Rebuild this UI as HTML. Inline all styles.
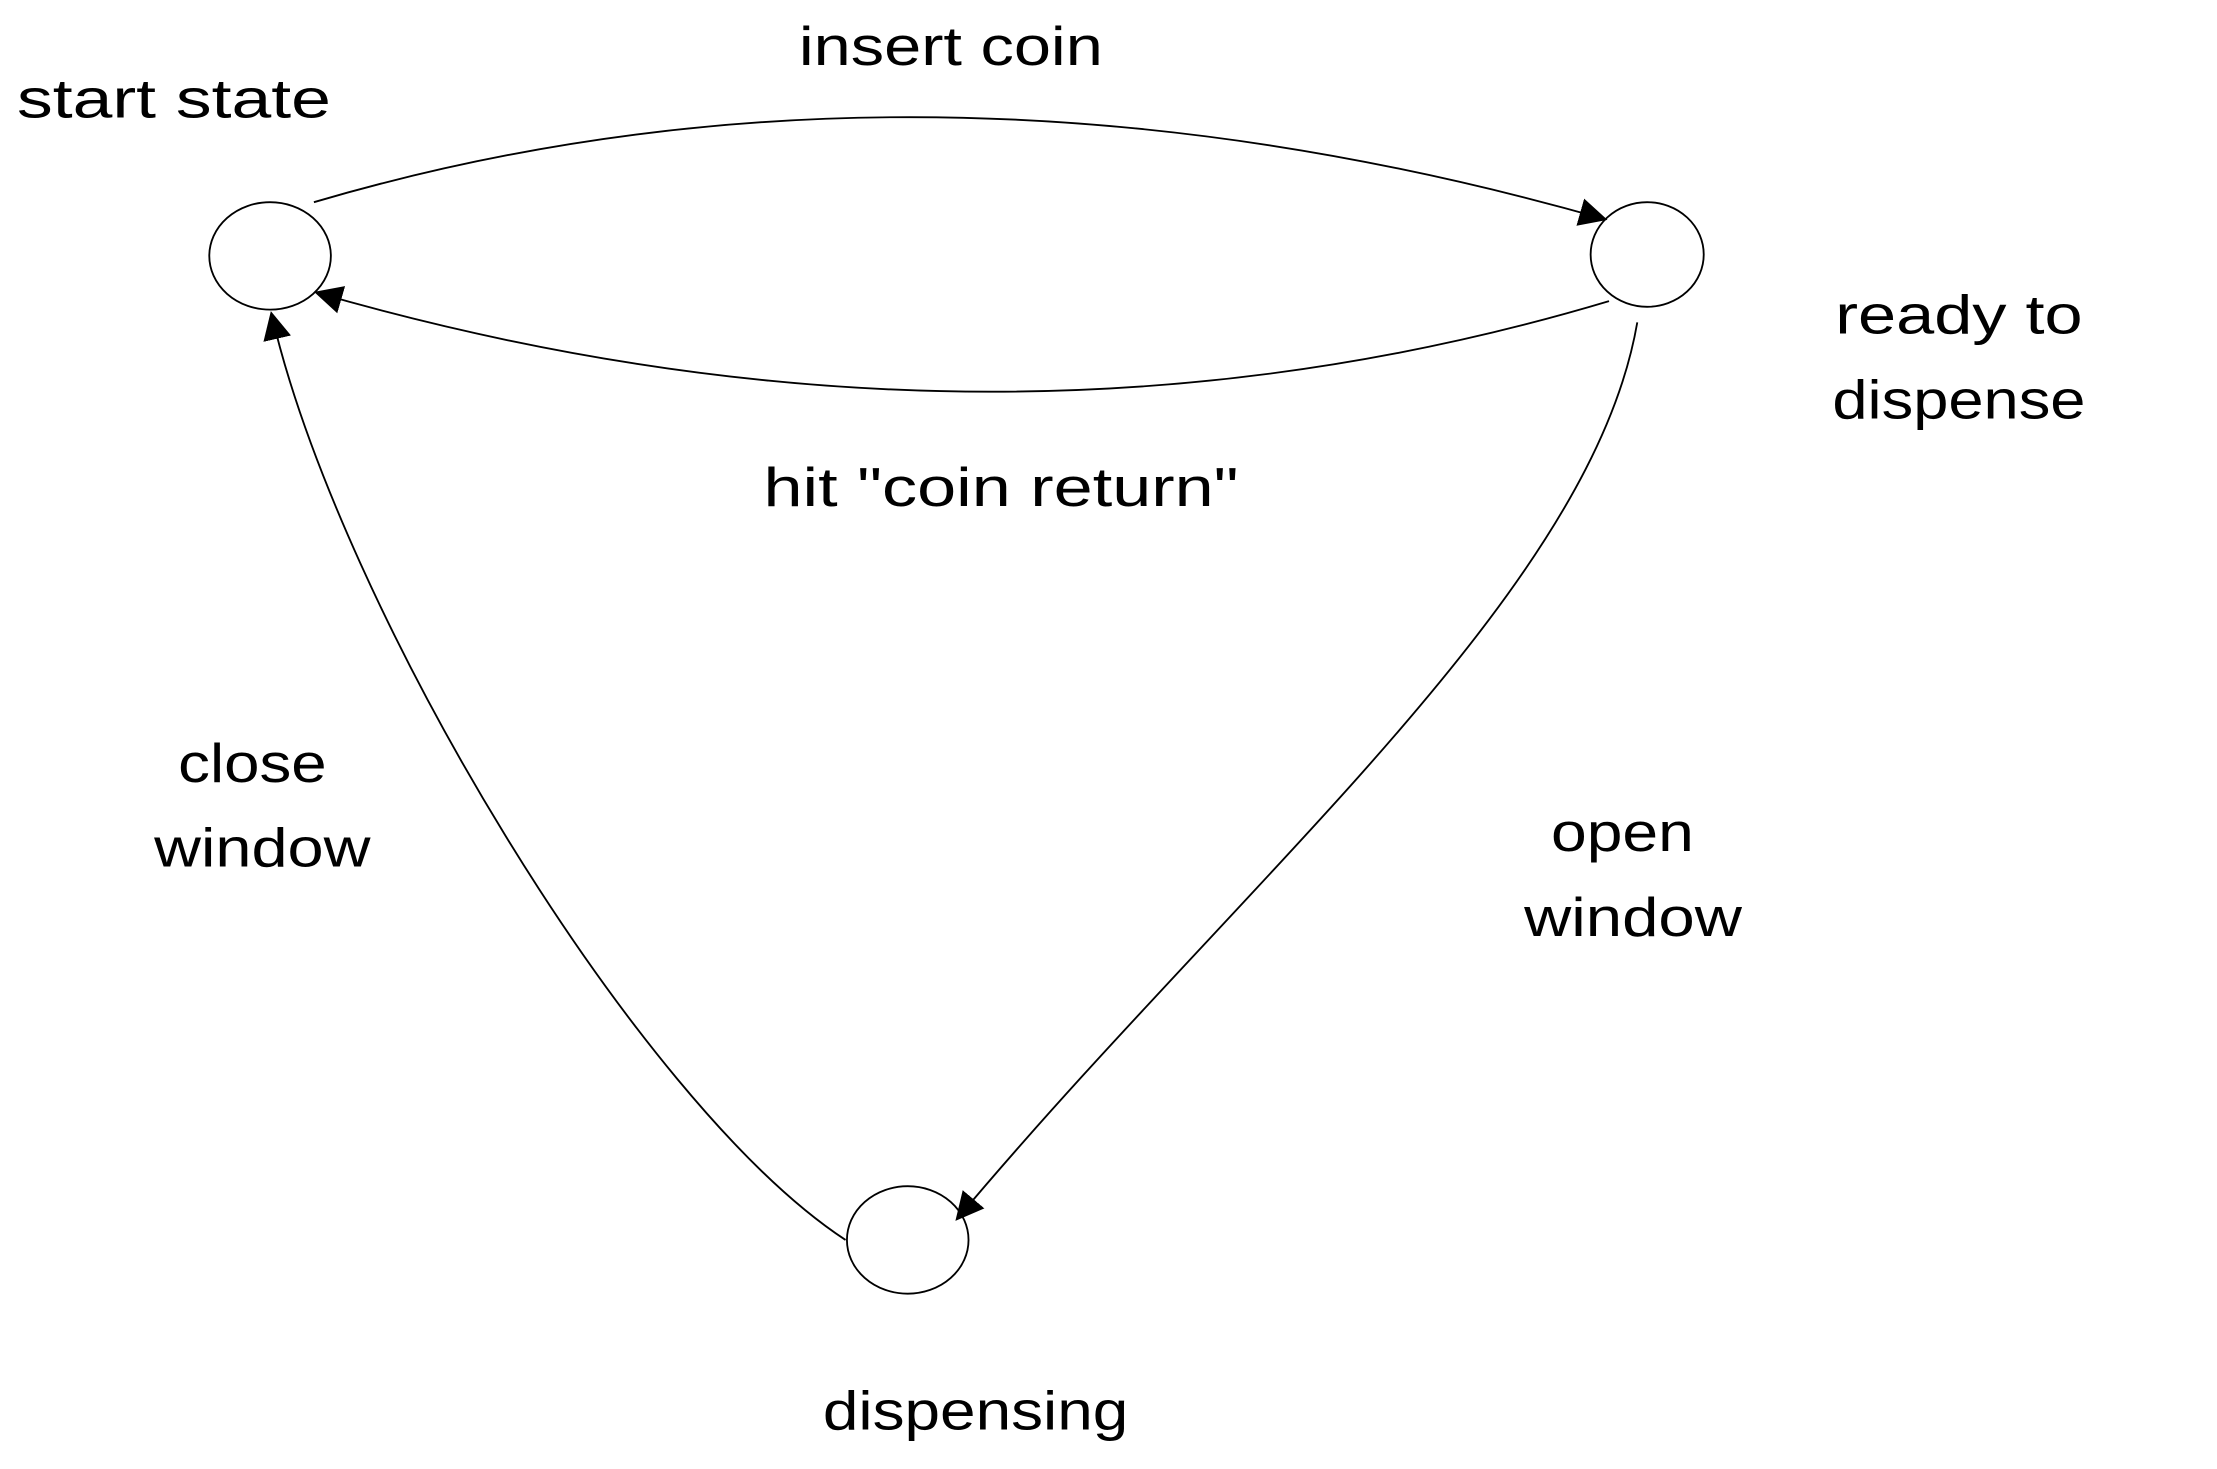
<!DOCTYPE html>
<html><head><meta charset="utf-8"><style>
html,body{margin:0;padding:0;background:#fff;width:2217px;height:1469px;overflow:hidden}
svg{display:block}
text{font-family:"Liberation Sans",sans-serif;font-size:39px;fill:#000}
</style></head><body>
<svg width="2217" height="1469" viewBox="0 0 1568 1039" xmlns="http://www.w3.org/2000/svg">
<defs><marker id="a" viewBox="0 0 10 10" refX="9" refY="5" markerWidth="20" markerHeight="20" markerUnits="userSpaceOnUse" orient="auto"><path d="M0,0 L10,5 L0,10 z" fill="#000"/></marker></defs>
<g fill="none" stroke="#000" stroke-width="1.3">
<ellipse cx="191" cy="181" rx="43" ry="38"/>
<ellipse cx="1165" cy="180" rx="40" ry="37"/>
<ellipse cx="642" cy="877" rx="43" ry="38"/>
<path d="M222,143 Q650,17 1135,155" marker-end="url(#a)"/>
<path d="M1138,213 Q700,344 224,207" marker-end="url(#a)"/>
<path d="M1158,228 C1125,420 880,620 677,862" marker-end="url(#a)"/>
<path d="M598,877 C450,780 240,430 192,222" marker-end="url(#a)"/>
</g>
<text x="12" y="83" textLength="222" lengthAdjust="spacingAndGlyphs">start state</text>
<text x="565" y="46" textLength="215" lengthAdjust="spacingAndGlyphs">insert coin</text>
<text x="1298" y="236" textLength="175" lengthAdjust="spacingAndGlyphs">ready to</text>
<text x="1296" y="296" textLength="179" lengthAdjust="spacingAndGlyphs">dispense</text>
<text x="540" y="358" textLength="336" lengthAdjust="spacingAndGlyphs">hit "coin return"</text>
<text x="126" y="553" textLength="105" lengthAdjust="spacingAndGlyphs">close</text>
<text x="109" y="613" textLength="153" lengthAdjust="spacingAndGlyphs">window</text>
<text x="1097" y="602" textLength="101" lengthAdjust="spacingAndGlyphs">open</text>
<text x="1078" y="662" textLength="154" lengthAdjust="spacingAndGlyphs">window</text>
<text x="582" y="1011" textLength="216" lengthAdjust="spacingAndGlyphs">dispensing</text>
</svg>
</body></html>
